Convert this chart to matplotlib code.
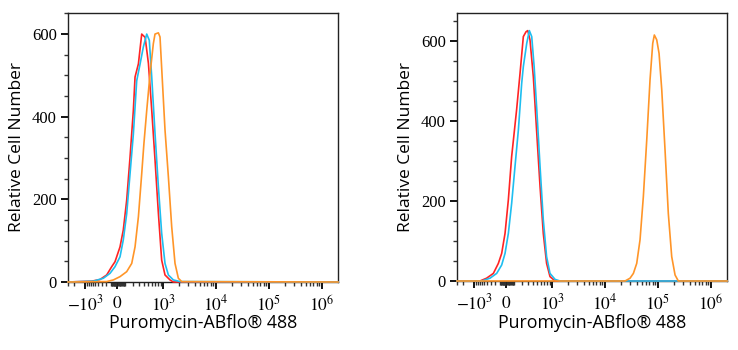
import numpy as np
import matplotlib
matplotlib.use("Agg")
import matplotlib.pyplot as plt

# Biexponential-like display of the fluorescence axis
A = 275.0
NEG_K = 0.69
LN10 = np.log(10)


def forward(x):
    x = np.asarray(x, dtype=float)
    u = np.arcsinh(x / A) / LN10
    return np.where(x >= 0, u, NEG_K * u)


def inverse(u):
    u = np.asarray(u, dtype=float)
    return np.where(u >= 0, A * np.sinh(u * LN10), A * np.sinh(u * LN10 / NEG_K))


XLIM = (-3003, 2.03e6)

# Left panel
left_red_x = [-647, -355, -192, -94, -35, 36, 76, 119, 164, 212, 238, 294, 355, 426, 503, 590, 690, 806, 937, 1089, 1361, 1576]
left_red_y = [2, 6, 17, 37, 49, 85, 126, 198, 302, 415, 496, 528, 600, 592, 529, 417, 296, 167, 53, 17, 5, 0]
left_cyan_x = [-581, -267, -125, -35, 36, 76, 119, 164, 212, 265, 323, 388, 462, 525, 590, 690, 806, 937, 1089, 1265, 1576, 2118]
left_cyan_y = [2, 9, 21, 37, 61, 102, 165, 262, 358, 487, 527, 569, 600, 585, 497, 360, 231, 118, 45, 17, 5, 1]
left_orange_x = [-192, -64, 36, 119, 188, 238, 294, 355, 399, 462, 545, 638, 690, 806, 869, 965, 1089, 1265, 1466, 1697, 1966, 2277]
left_orange_y = [1, 5, 13, 25, 45, 85, 158, 262, 334, 415, 504, 577, 600, 603, 593, 489, 368, 255, 134, 45, 9, 1]

# Right panel
right_red_x = [-681, -427, -243, -138, -76, -17, 28, 68, 131, 178, 227, 270, 300, 341, 409, 487, 572, 667, 778, 909, 1142]
right_red_y = [0, 7, 19, 44, 69, 119, 203, 311, 428, 519, 611, 623, 626, 603, 510, 369, 236, 119, 44, 11, 0]
right_cyan_x = [-604, -327, -171, -76, -17, 28, 68, 110, 155, 202, 227, 282, 329, 375, 426, 487, 572, 667, 778, 909, 1142, 1424]
right_cyan_y = [0, 7, 19, 40, 69, 119, 194, 286, 378, 494, 536, 594, 626, 611, 536, 429, 286, 153, 61, 19, 4, 0]
right_orange_x = [24190, 30085, 34780, 40200, 46420, 53620, 62100, 71690, 80600, 86430, 95860, 106100, 119270, 137500, 158570, 183800, 212600, 245000]
right_orange_y = [0, 7, 19, 44, 103, 211, 352, 503, 594, 615, 603, 569, 478, 328, 169, 61, 15, 0]

MAJOR_TICKS = [-1e3, 0, 1e3, 1e4, 1e5, 1e6]
MAJOR_LABELS = [r"$-10^{3}$", r"$0$", r"$10^{3}$", r"$10^{4}$", r"$10^{5}$", r"$10^{6}$"]

RED = "#ff2424"
CYAN = "#1ebef0"
ORANGE = "#ff9528"
LABEL_FONT = ["Open Sans", "DejaVu Sans"]

plt.rcParams["mathtext.fontset"] = "stix"


def minor_ticks():
    ticks = []
    for k in range(1, 6):
        for m in range(2, 10):
            ticks.append(m * 10 ** k)
    for k in (1, 2):
        for m in range(1, 10):
            ticks.append(-m * 10 ** k)
    ticks += [10, 100, -2000, -3000]
    return ticks


def setup_axis(ax, ymax):
    ax.set_xscale("function", functions=(forward, inverse))
    ax.set_xlim(*XLIM)
    ax.set_ylim(0, ymax)
    ax.set_xticks(MAJOR_TICKS)
    ax.set_xticklabels(MAJOR_LABELS)
    ax.set_xticks(minor_ticks(), minor=True)
    ax.set_yticks([0, 200, 400, 600])
    ax.set_yticks(np.arange(50, ymax, 50), minor=True)
    ax.tick_params(axis="both", which="major", direction="out", length=5, width=1.3,
                   color="black")
    ax.tick_params(axis="x", which="major", labelsize=12.5, pad=4)
    ax.tick_params(axis="y", which="major", labelsize=12, pad=3)
    ax.tick_params(axis="both", which="minor", direction="out", length=3, width=1.0,
                   color="#333333")
    for lbl in ax.get_yticklabels():
        lbl.set_family("Liberation Serif")
    for sp in ax.spines.values():
        sp.set_linewidth(1.0)
        sp.set_color("#222222")
    ax.set_ylabel("Relative Cell Number", fontsize=12.5, family=LABEL_FONT, labelpad=5)
    ax.set_xlabel("Puromycin-ABflo® 488", fontsize=12.8, family=LABEL_FONT, labelpad=0)


fig = plt.figure(figsize=(7.38, 3.5), dpi=100)
ax1 = fig.add_axes([68 / 738, 68 / 350, 270 / 738, 269 / 350])
ax2 = fig.add_axes([457 / 738, 69 / 350, 270 / 738, 268 / 350])

for ax, series, ymax in [
    (ax1, [(left_red_x, left_red_y, RED), (left_cyan_x, left_cyan_y, CYAN),
           (left_orange_x, left_orange_y, ORANGE)], 651),
    (ax2, [(right_red_x, right_red_y, RED), (right_cyan_x, right_cyan_y, CYAN),
           (right_orange_x, right_orange_y, ORANGE)], 670),
]:
    for xs, ys, c in series:
        xs = [XLIM[0]] + list(xs) + [XLIM[1]]
        ys = [0] + list(ys) + [0]
        ax.plot(xs, ys, color=c, linewidth=1.2, clip_on=False, zorder=3)
    setup_axis(ax, ymax)

fig.savefig("out.png", dpi=100)
